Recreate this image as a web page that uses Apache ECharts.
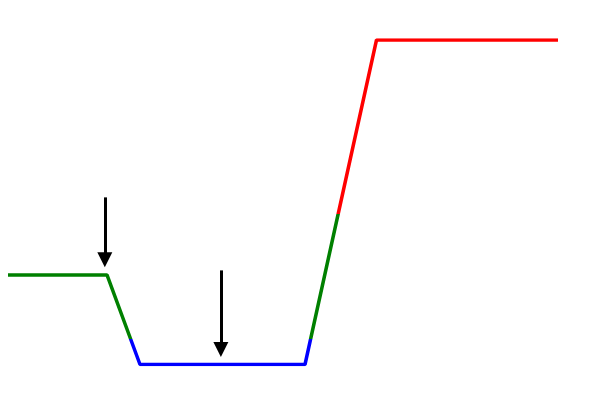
<!DOCTYPE html>
<html>
<head>
<meta charset="utf-8">
<script src="https://cdn.jsdelivr.net/npm/echarts@6/dist/echarts.min.js"></script>
<style>html,body{margin:0;padding:0;background:#fff}#c{width:600px;height:400px}</style>
</head>
<body>
<div id="c"></div>
<script>
var xValues = [0, 18, 24, 54, 67, 100];
var yValues = [27.6, 27.6, 0, 0, 100, 100];
var lowThreshold = 8;
var highThreshold = 46.5;
var arrow1 = [[17.6, 51.5], [17.6, 32.3]];
var arrow2 = [[38.7, 29], [38.7, 4.6]];

var lineData = xValues.map(function (x, i) { return [x, yValues[i]]; });

var chart = echarts.init(document.getElementById('c'), null, {renderer: 'canvas'});
chart.setOption({
  animation: false,
  backgroundColor: '#ffffff',
  grid: {left: 8, right: 42, top: 40, bottom: 35.5},
  xAxis: {type: 'value', min: 0, max: 100, show: false},
  yAxis: {type: 'value', min: 0, max: 100, show: false},
  visualMap: {
    show: false,
    type: 'piecewise',
    dimension: 1,
    seriesIndex: 0,
    pieces: [
      {lt: lowThreshold, color: '#0000ff'},
      {gte: lowThreshold, lt: highThreshold, color: '#008000'},
      {gte: highThreshold, color: '#ff0000'}
    ]
  },
  series: [
    {
      type: 'line',
      data: lineData,
      symbol: 'none',
      lineStyle: {width: 3.5}
    },
    {
      type: 'line',
      data: [],
      markLine: {
        silent: true,
        symbol: ['none', 'triangle'],
        symbolSize: 15,
        label: {show: false},
        lineStyle: {color: '#000000', width: 3, type: 'solid'},
        itemStyle: {color: '#000000'},
        data: [
          [{coord: arrow1[0]}, {coord: arrow1[1]}],
          [{coord: arrow2[0]}, {coord: arrow2[1]}]
        ]
      }
    }
  ]
});
</script>
</body>
</html>
